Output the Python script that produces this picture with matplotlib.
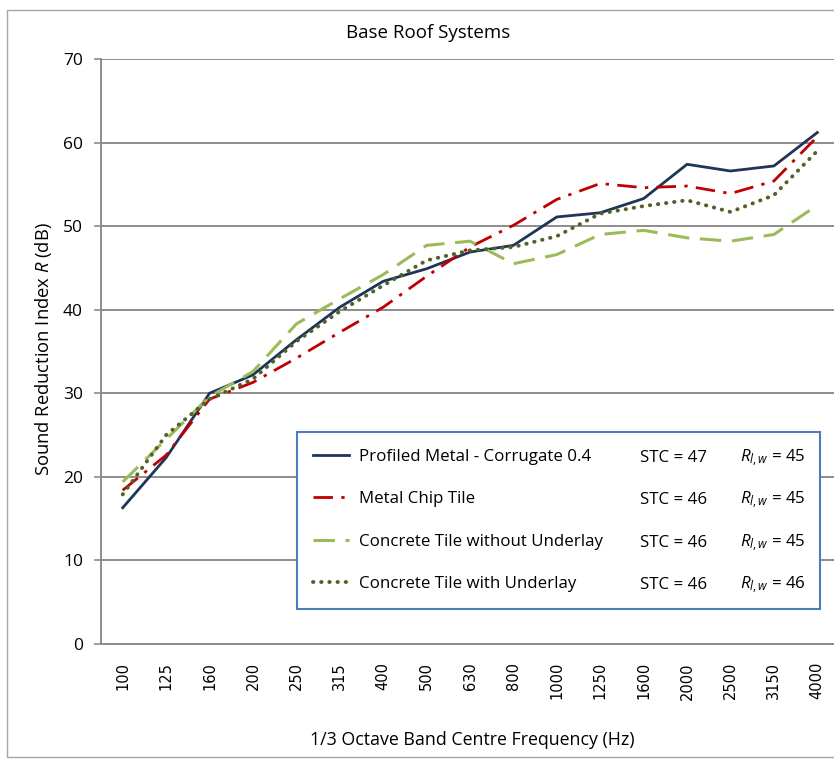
import matplotlib
matplotlib.use("Agg")
import matplotlib.pyplot as plt
from matplotlib.patches import Rectangle

freqs = ["100", "125", "160", "200", "250", "315", "400", "500", "630", "800",
         "1000", "1250", "1600", "2000", "2500", "3150", "4000"]
profiled_metal = [16.3, 22.3, 30.0, 32.2, 36.4, 40.3, 43.4, 44.9, 46.9, 47.7,
                  51.1, 51.6, 53.3, 57.4, 56.6, 57.2, 61.2]
metal_chip = [18.4, 22.6, 29.3, 31.3, 34.2, 37.3, 40.3, 44.0, 47.5, 50.1,
              53.2, 55.1, 54.6, 54.8, 53.9, 55.4, 60.7]
concrete_no_ul = [19.4, 24.5, 29.6, 32.6, 38.3, 41.3, 44.2, 47.7, 48.2, 45.5,
                  46.6, 49.0, 49.5, 48.6, 48.2, 49.0, 52.5]
concrete_ul = [17.9, 25.0, 29.3, 31.7, 36.2, 39.8, 42.9, 45.9, 47.1, 47.5,
               48.8, 51.5, 52.4, 53.1, 51.7, 53.7, 59.0]
series_names = ["Profiled Metal - Corrugate 0.4", "Metal Chip Tile",
                "Concrete Tile without Underlay", "Concrete Tile with Underlay"]
stc_values = [47, 46, 46, 46]
rlw_values = [45, 45, 45, 46]

plt.rcParams['font.family'] = ['Open Sans', 'DejaVu Sans']
plt.rcParams['mathtext.fontset'] = 'custom'
plt.rcParams['mathtext.rm'] = 'Open Sans'
plt.rcParams['mathtext.it'] = 'Open Sans:italic'

W, H = 834, 761
fig = plt.figure(figsize=(W / 100, H / 100), dpi=100)

def fx(px):
    return px / W

def fy(py):
    return 1 - py / H

# figure border
fig.patches.append(Rectangle((fx(7), fy(757)), fx(900), fy(10) - fy(757),
                             transform=fig.transFigure, fill=False,
                             edgecolor='#a6a6a6', lw=1.0))

ax = fig.add_axes([fx(101), fy(644), fx(839) - fx(101), fy(59) - fy(644)])
x = list(range(len(freqs)))

ax.plot(x, profiled_metal, color='#1f3556', lw=2.0, solid_joinstyle='round',
        label=series_names[0])
ax.plot(x, metal_chip, color='#c00000', lw=2.0, dashes=(7, 3, 1.2, 3),
        label=series_names[1])
ax.plot(x, concrete_no_ul, color='#9bbb59', lw=2.2, dashes=(7, 3.5),
        label=series_names[2])
ax.plot(x, concrete_ul, color='#4f6228', lw=2.8, dashes=(0.1, 2.0),
        dash_capstyle='round', label=series_names[3])

ax.set_xlim(-0.5, len(freqs) - 0.5)
ax.set_ylim(0, 70)
ax.set_yticks(range(0, 71, 10))
ax.set_xticks(x)
ax.set_xticklabels(freqs, rotation=90, family='DejaVu Sans', fontsize=10.5)
ax.tick_params(axis='x', length=0, pad=13)
ax.tick_params(axis='y', length=5, width=1.2, color='#8c8c8c', pad=8,
               labelsize=12.5)
ax.grid(axis='y', color='#8c8c8c', lw=1.4)
ax.set_axisbelow(True)
for s in ['top', 'right']:
    ax.spines[s].set_visible(False)
for s in ['left', 'bottom']:
    ax.spines[s].set_color('#8c8c8c')
    ax.spines[s].set_linewidth(1.4)

fig.text(fx(428), fy(33), "Base Roof Systems", ha='center', va='center',
         fontsize=13.5)
fig.text(fx(44), fy(349), "Sound Reduction Index $R$ (dB)", rotation=90,
         ha='center', va='center', fontsize=13.2)
fig.text(fx(472), fy(740), "1/3 Octave Band Centre Frequency (Hz)",
         ha='center', va='center', fontsize=12.8)

leg = ax.legend(loc='center', bbox_to_anchor=(fx(297), fy(608), fx(820) - fx(297),
                fy(433) - fy(608)), bbox_transform=fig.transFigure,
                mode='expand', fontsize=12.2, frameon=True, fancybox=False,
                edgecolor='#4a7ebb', framealpha=1, labelspacing=1.57,
                handlelength=2.1, handletextpad=0.6, borderpad=0.95,
                borderaxespad=0)
leg.get_frame().set_linewidth(1.5)

row_y = [458, 500, 543, 585]
for ry, stc, rlw in zip(row_y, stc_values, rlw_values):
    fig.text(fx(640), fy(ry), f"STC = {stc}", ha='left', va='center',
             fontsize=12.2)
    fig.text(fx(740), fy(ry), "$R_{l,w}$ = " + str(rlw), ha='left',
             va='center', fontsize=12.2)

fig.savefig("out.png", dpi=100)
